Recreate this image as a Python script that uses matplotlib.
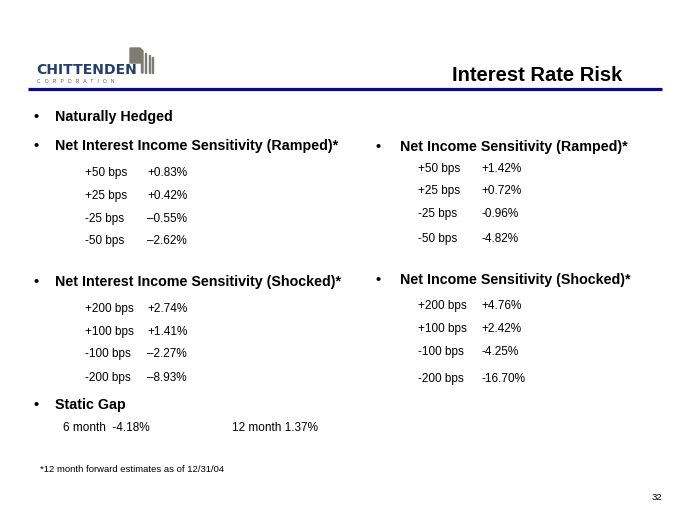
import matplotlib.pyplot as plt
from matplotlib.patches import Rectangle, Polygon

plt.rcParams['font.family'] = ['Liberation Sans', 'DejaVu Sans']

# slide content
title = "Interest Rate Risk"
top_bullet = "Naturally Hedged"

nii_ramped_title = "Net Interest Income Sensitivity (Ramped)*"
nii_ramped_shift = ["+50 bps", "+25 bps", "-25 bps", "-50 bps"]
nii_ramped_value = ["+0.83%", "+0.42%", "\u20130.55%", "\u20132.62%"]

nii_shocked_title = "Net Interest Income Sensitivity (Shocked)*"
nii_shocked_shift = ["+200 bps", "+100 bps", "-100 bps", "-200 bps"]
nii_shocked_value = ["+2.74%", "+1.41%", "\u20132.27%", "\u20138.93%"]

ni_ramped_title = "Net Income Sensitivity (Ramped)*"
ni_ramped_shift = ["+50 bps", "+25 bps", "-25 bps", "-50 bps"]
ni_ramped_value = ["+1.42%", "+0.72%", "-0.96%", "-4.82%"]

ni_shocked_title = "Net Income Sensitivity (Shocked)*"
ni_shocked_shift = ["+200 bps", "+100 bps", "-100 bps", "-200 bps"]
ni_shocked_value = ["+4.76%", "+2.42%", "-4.25%", "-16.70%"]

gap_title = "Static Gap"
gap_labels = ["6 month  -4.18%", "12 month 1.37%"]
footnote = "*12 month forward estimates as of 12/31/04"
page_no = "32"

W, H = 680, 510
fig = plt.figure(figsize=(W / 100, H / 100), dpi=100)
ax = fig.add_axes([0, 0, 1, 1])
ax.set_xlim(0, W)
ax.set_ylim(H, 0)
ax.axis("off")

HEAD = 10.3
ROW = 8.5


def bullet(x_dot, x_txt, y, text):
    ax.text(x_dot, y + 2, "\u2022", fontsize=10.5, fontweight="bold", ha="left", va="center")
    ax.text(x_txt, y + 2, text, fontsize=HEAD, fontweight="bold", ha="left", va="center")


def rows(x_lab, x_val, ys, labels, values):
    for y, lab, val in zip(ys, labels, values):
        ax.text(x_lab, y + 1, lab, fontsize=ROW, ha="left", va="center")
        ax.text(x_val, y + 1, val, fontsize=ROW, ha="left", va="center")


# logo
grey = "#7d7d72"
ax.text(36, 70.5, "CHITTENDEN", fontsize=10.1, fontweight="bold", color="#22406e",
        family="DejaVu Sans", ha="left", va="center")
ax.text(37, 81.5, "C   O   R   P   O   R   A   T   I   O   N", fontsize=3.6,
        color="#555555", ha="left", va="center")
ax.add_patch(Polygon([[130, 49], [140, 49], [143, 52], [143, 74], [141.5, 74],
                      [141.5, 64], [130, 64]], closed=True, color=grey))
ax.add_patch(Rectangle((145, 54), 1.4, 20, color=grey))
ax.add_patch(Rectangle((148.5, 56), 1.4, 18, color=grey))
ax.add_patch(Rectangle((152, 58), 1.3, 16, color=grey))

# title and rule
ax.text(622, 75.5, title, fontsize=14.5, fontweight="bold", ha="right", va="center")
ax.plot([28, 662], [90, 90], color="#0a0a90", lw=2.3, solid_capstyle="butt")

# left column
bullet(33, 55, 115, top_bullet)
bullet(33, 55, 144, nii_ramped_title)
rows(85, 147, [172, 195, 218, 240], nii_ramped_shift, nii_ramped_value)
bullet(33, 55, 280, nii_shocked_title)
rows(85, 147, [308, 331, 353, 377], nii_shocked_shift, nii_shocked_value)
bullet(33, 55, 403, gap_title)
ax.text(63, 428, gap_labels[0], fontsize=ROW, ha="left", va="center")
ax.text(232, 428, gap_labels[1], fontsize=ROW, ha="left", va="center")
ax.text(40, 470, footnote, fontsize=6.8, ha="left", va="center")

# right column
bullet(376, 400, 145, ni_ramped_title)
rows(418, 481, [168, 190, 213, 238], ni_ramped_shift, ni_ramped_value)
bullet(376, 400, 278, ni_shocked_title)
rows(418, 481, [305, 328, 351, 378], ni_shocked_shift, ni_shocked_value)

ax.text(662, 498, page_no, fontsize=6.8, ha="right", va="center")

fig.savefig("out.png", dpi=100)
